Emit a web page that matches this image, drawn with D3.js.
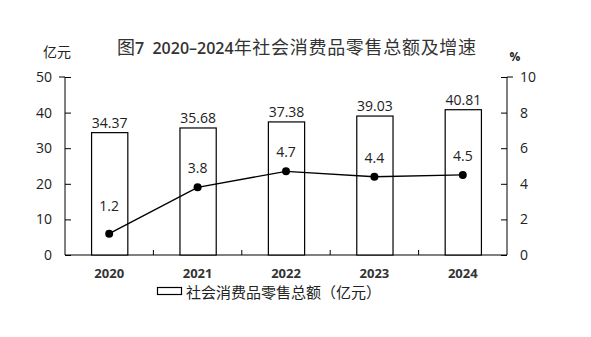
<!DOCTYPE html>
<html>
<head>
<meta charset="utf-8">
<script src="https://cdn.jsdelivr.net/npm/d3@7/dist/d3.min.js"></script>
<style>
  html, body { margin: 0; padding: 0; background: #fff; }
  svg { display: block; }
  text { font-family: "Open Sans", "Noto Sans CJK SC", sans-serif; fill: #222; }
  .cjk { font-family: "Noto Sans CJK SC", sans-serif; }
</style>
</head>
<body>
<svg id="chart" width="591" height="337"></svg>
<script>
// 社会消费品零售总额（亿元）及增速（%）
const years = ["2020", "2021", "2022", "2023", "2024"];
const retailTotal = [34.37, 35.68, 37.38, 39.03, 40.81];
const growthRate = [1.2, 3.8, 4.7, 4.4, 4.5];
const leftTicks = [0, 10, 20, 30, 40, 50];
const rightTicks = [0, 2, 4, 6, 8, 10];

const svg = d3.select("#chart");
const margin = { left: 65, right: 84, top: 77, bottom: 82 };
const W = 591, H = 337;
const plotL = margin.left, plotR = W - margin.right;
const plotT = margin.top, plotB = H - margin.bottom;

const x = d3.scaleBand().domain(years).range([plotL, plotR]).paddingInner(0.59).paddingOuter(0.295);
const xOuter = d3.scaleBand().domain(years).range([plotL, plotR]).padding(0);
const yL = d3.scaleLinear().domain([0, 50]).range([plotB, plotT]);
const yR = d3.scaleLinear().domain([0, 10]).range([plotB, plotT]);

// Title: CJK parts and the figure/year part in separate runs
const title = svg.append("text")
  .attr("x", 117).attr("y", 54)
  .style("fill", "#333");
title.append("tspan").attr("class", "cjk").attr("font-size", 18).style("fill", "#333").text("图");
title.append("tspan").attr("font-size", 16).attr("font-weight", 600).style("fill", "#333")
  .style("font-family", "Open Sans").text("7\u00a0 2020–2024");
title.append("tspan").attr("class", "cjk").attr("font-size", 18).attr("letter-spacing", 0.7)
  .style("fill", "#333").text("年社会消费品零售总额及增速");

// Axis unit labels
svg.append("text").attr("class", "cjk").attr("x", 57).attr("y", 57)
  .attr("text-anchor", "middle").attr("font-size", 14).text("亿元");
svg.append("text").attr("x", 515).attr("y", 61)
  .attr("text-anchor", "middle").attr("font-size", 12).attr("font-weight", "bold").text("%");

// Left axis (ticks point inward)
const leftAxis = d3.axisLeft(yL).tickValues(leftTicks).tickSize(-6).tickPadding(13).tickFormat(d3.format("d"));
const gL = svg.append("g").attr("transform", `translate(${plotL},0)`).call(leftAxis);
gL.select(".domain").attr("stroke", "#000").attr("d", `M${-6},${plotT}H0V${plotB}`);
gL.selectAll(".tick line").attr("stroke", "#000");
gL.selectAll(".tick text").attr("font-size", 14).style("font-family", "Open Sans").attr("fill", "#222");

// Right axis
const rightAxis = d3.axisRight(yR).tickValues(rightTicks).tickSize(-6).tickPadding(13).tickFormat(d3.format("d"));
const gR = svg.append("g").attr("transform", `translate(${plotR},0)`).call(rightAxis);
gR.select(".domain").attr("stroke", "#000").attr("d", `M6,${plotT}H0V${plotB}`);
gR.selectAll(".tick line").attr("stroke", "#000");
gR.selectAll(".tick text").attr("font-size", 14).style("font-family", "Open Sans").attr("fill", "#222");

// Bottom axis with small inward ticks at category boundaries
svg.append("line").attr("x1", plotL).attr("x2", plotR).attr("y1", plotB).attr("y2", plotB)
  .attr("stroke", "#000").attr("stroke-width", 1);
svg.append("g").selectAll("line").data(years.slice(1)).join("line")
  .attr("x1", d => xOuter(d)).attr("x2", d => xOuter(d))
  .attr("y1", plotB).attr("y2", plotB - 5)
  .attr("stroke", "#000");
svg.append("g").selectAll("text").data(years).join("text")
  .attr("x", d => xOuter(d) + xOuter.bandwidth() / 2)
  .attr("y", plotB + 23)
  .attr("text-anchor", "middle")
  .attr("font-size", 13).attr("font-weight", "bold")
  .style("fill", "#333")
  .text(d => d);

// Bars
svg.append("g").selectAll("rect").data(years).join("rect")
  .attr("x", d => x(d) + 0.5)
  .attr("y", (d, i) => yL(retailTotal[i]))
  .attr("width", x.bandwidth())
  .attr("height", (d, i) => plotB - yL(retailTotal[i]))
  .attr("fill", "#fff").attr("stroke", "#000").attr("stroke-width", 1.2);

svg.append("g").selectAll("text").data(years).join("text")
  .attr("x", d => x(d) + x.bandwidth() / 2 + 0.5)
  .attr("y", (d, i) => yL(retailTotal[i]) - 5)
  .attr("text-anchor", "middle")
  .attr("font-size", 14)
  .text((d, i) => retailTotal[i].toFixed(2));

// Growth line
const cx = d => xOuter(d) + xOuter.bandwidth() / 2;
const line = d3.line().x((d, i) => cx(years[i])).y(d => yR(d));
svg.append("path").datum(growthRate)
  .attr("d", line)
  .attr("fill", "none").attr("stroke", "#000").attr("stroke-width", 1.4);
svg.append("g").selectAll("circle").data(growthRate).join("circle")
  .attr("cx", (d, i) => cx(years[i]))
  .attr("cy", d => yR(d))
  .attr("r", 4).attr("fill", "#000");
svg.append("g").selectAll("text").data(growthRate).join("text")
  .attr("x", (d, i) => cx(years[i]))
  .attr("y", (d, i) => yR(d) - (i === 0 ? 23 : 14))
  .attr("text-anchor", "middle")
  .attr("font-size", 14)
  .text(d => d.toFixed(1));

// Legend
svg.append("rect").attr("x", 157.5).attr("y", 287.5).attr("width", 24).attr("height", 7)
  .attr("fill", "#fff").attr("stroke", "#000").attr("stroke-width", 1.2);
svg.append("text").attr("class", "cjk").attr("x", 186).attr("y", 298)
  .attr("font-size", 15).text("社会消费品零售总额（亿元）");
</script>
</body>
</html>
